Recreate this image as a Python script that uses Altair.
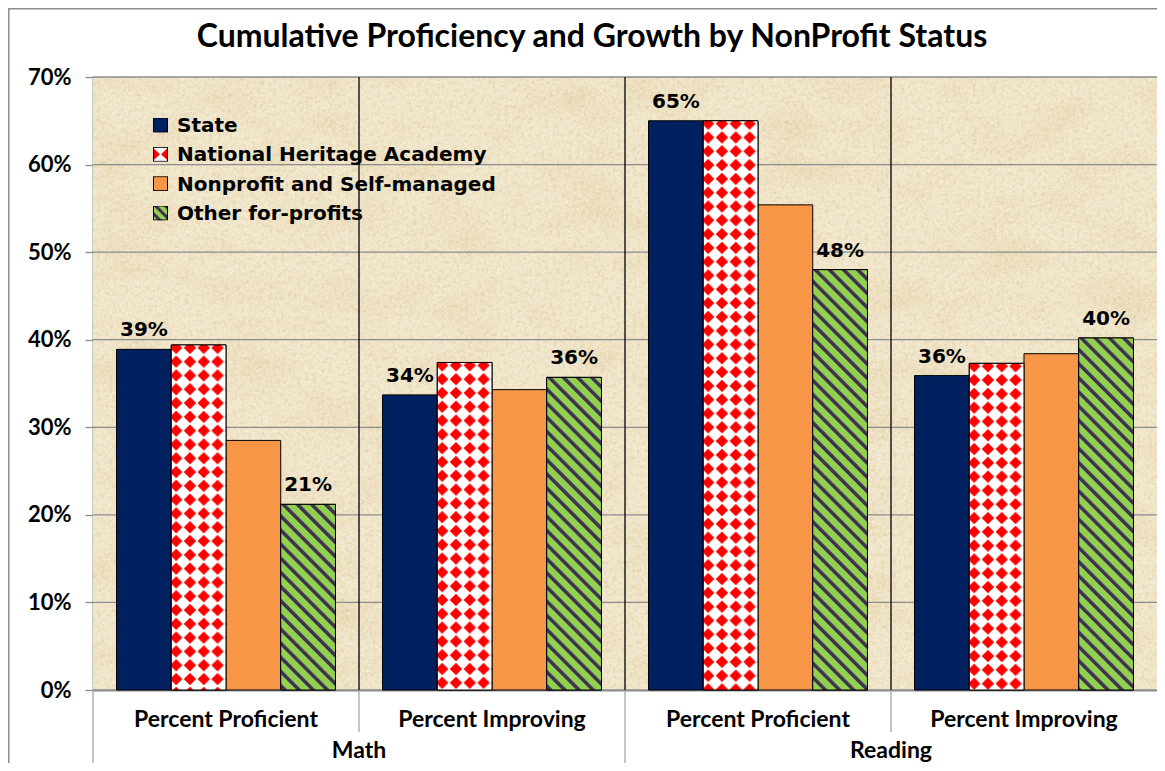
import urllib.parse
import altair as alt
import pandas as pd

# ---------------- data ----------------
title_text = "Cumulative Proficiency and Growth by NonProfit Status"
subjects = ["Math", "Math", "Reading", "Reading"]
measures = ["Percent Proficient", "Percent Improving", "Percent Proficient", "Percent Improving"]
series = ["State", "National Heritage Academy", "Nonprofit and Self-managed", "Other for-profits"]
state_vals = [38.9, 33.7, 65.0, 35.9]
nha_vals = [39.4, 37.4, 65.0, 37.3]
nonprofit_vals = [28.5, 34.3, 55.4, 38.4]
other_vals = [21.2, 35.7, 48.0, 40.2]
y_ticks = [0, 10, 20, 30, 40, 50, 60, 70]
labelled_series = ["State", "Other for-profits"]

# ---------------- styles ----------------
NAVY = "#002060"
ORANGE = "#F79646"
GREEN = "#92D050"
STRIPE = "#3F3151"
GRID = "#8C8C8C"
W, H = 1064, 613


def svg_url(svg):
    return "data:image/svg+xml;charset=utf-8," + urllib.parse.quote(svg)


diamond_svg = (
    "<svg xmlns='http://www.w3.org/2000/svg' width='100%' height='100%'>"
    "<defs><pattern id='d' x='-2' y='-4' width='13.8' height='13.8' patternUnits='userSpaceOnUse'>"
    "<rect width='13.8' height='13.8' fill='#FFFFFF'/>"
    "<path d='M6.9 0.7 L13.1 6.9 L6.9 13.1 L0.7 6.9 Z' fill='#FF0000'/>"
    "</pattern></defs><rect width='100%' height='100%' fill='url(#d)'/></svg>"
)
stripe_svg = (
    "<svg xmlns='http://www.w3.org/2000/svg' width='100%' height='100%'>"
    "<defs><pattern id='s' width='10' height='10' patternUnits='userSpaceOnUse' patternTransform='rotate(-45)'>"
    f"<rect width='10' height='10' fill='{GREEN}'/><rect width='3.5' height='10' fill='{STRIPE}'/>"
    "</pattern></defs><rect width='100%' height='100%' fill='url(#s)'/></svg>"
)
bg_svg = (
    "<svg xmlns='http://www.w3.org/2000/svg' width='100%' height='100%'>"
    "<defs>"
    "<filter id='f' x='0' y='0' width='100%' height='100%' color-interpolation-filters='sRGB'>"
    "<feTurbulence type='fractalNoise' baseFrequency='0.015 0.025' numOctaves='5' seed='7'/>"
    "<feColorMatrix type='matrix' values='0 0 0 0 0.86  0 0 0 0 0.76  0 0 0 0 0.55  2.0 0 0 0 -0.9'/>"
    "</filter>"
    "<filter id='g' x='0' y='0' width='100%' height='100%' color-interpolation-filters='sRGB'>"
    "<feTurbulence type='fractalNoise' baseFrequency='0.45' numOctaves='2' seed='3'/>"
    "<feColorMatrix type='matrix' values='0 0 0 0 1  0 0 0 0 0.98  0 0 0 0 0.93  2.2 0 0 0 -0.95'/>"
    "</filter>"
    "<filter id='h' x='0' y='0' width='100%' height='100%' color-interpolation-filters='sRGB'>"
    "<feTurbulence type='fractalNoise' baseFrequency='0.25' numOctaves='2' seed='11'/>"
    "<feColorMatrix type='matrix' values='0 0 0 0 0.82  0 0 0 0 0.72  0 0 0 0 0.52  2.2 0 0 0 -1.0'/>"
    "</filter></defs>"
    "<rect width='100%' height='100%' fill='#F0E5CA'/>"
    "<rect width='100%' height='100%' filter='url(#f)' opacity='0.35'/>"
    "<rect width='100%' height='100%' filter='url(#h)' opacity='0.4'/>"
    "<rect width='100%' height='100%' filter='url(#g)' opacity='0.5'/>"
    "</svg>"
)


def swatch(inner):
    return svg_url(
        "<svg xmlns='http://www.w3.org/2000/svg' width='15' height='15' viewBox='0 0 15 15'>"
        + inner
        + "<rect x='0.5' y='0.5' width='14' height='14' fill='none' stroke='#000' stroke-width='1'/></svg>"
    )


swatch_urls = [
    swatch(f"<rect width='15' height='15' fill='{NAVY}'/>"),
    swatch("<rect width='15' height='15' fill='#FFFFFF'/>"
           "<path d='M0 1 L7 7.5 L0 14 Z M15 1 L8 7.5 L15 14 Z' fill='#FF0000'/>"),
    swatch(f"<rect width='15' height='15' fill='{ORANGE}'/>"),
    swatch("<defs><pattern id='s' width='7' height='7' patternUnits='userSpaceOnUse' patternTransform='rotate(-45)'>"
           f"<rect width='7' height='7' fill='{GREEN}'/><rect width='3' height='7' fill='{STRIPE}'/>"
           "</pattern></defs><rect width='15' height='15' fill='url(#s)'/>"),
]

keys = [f"{s}|{m}" for s, m in zip(subjects, measures)]
rows = []
for sname, vals in zip(series, [state_vals, nha_vals, nonprofit_vals, other_vals]):
    for k, v in zip(keys, vals):
        rows.append({"key": k, "series": sname, "value": v / 100.0, "zero": 0.0})
df = pd.DataFrame(rows)

sep_df = pd.DataFrame({"key": keys, "subject": subjects,
                       "first": [i == 0 or subjects[i] != subjects[i - 1] for i in range(4)]})
grid_df = pd.DataFrame({"tick": [t / 100.0 for t in y_ticks]})
group_df = pd.DataFrame({"subject": ["Math", "Reading"], "key": [keys[1], keys[3]]})
legend_df = pd.DataFrame({"series": series, "idx": list(range(len(series))), "url": swatch_urls})
title_df = pd.DataFrame({"t": [title_text]})
one = pd.DataFrame({"k": [1]})

# ---------------- scales / axes ----------------
x_scale = alt.Scale(domain=keys, paddingInner=0, paddingOuter=0)
xo_scale = alt.Scale(domain=series, paddingInner=0, paddingOuter=0.43)
y_scale = alt.Scale(domain=[0, 0.7], nice=False, zero=True)
x_axis = alt.Axis(
    title=None, labelExpr="split(datum.label, '|')[1]", ticks=False, tickSize=0,
    domainColor=GRID, domainWidth=2, labelAngle=0, labelFont="Lato", labelFontSize=23,
    labelFontWeight="bold", labelColor="black", labelBaseline="alphabetic", labelPadding=36,
    labelLimit=400, grid=False,
)
y_axis = alt.Axis(
    title=None, values=[t / 100.0 for t in y_ticks], format=".0%", grid=False,
    domainColor=GRID, domainWidth=2, tickColor=GRID, tickSize=8, tickWidth=1.3,
    labelFont="Lato", labelFontSize=22, labelFontWeight="bold", labelColor="black", labelPadding=14,
)

X = alt.X("key:N", scale=x_scale, sort=keys, axis=x_axis)
XB = alt.X("key:N", scale=x_scale, sort=keys, axis=x_axis, bandPosition=0)
XO = alt.XOffset("series:N", scale=xo_scale, sort=series)
Y = alt.Y("value:Q", scale=y_scale, axis=y_axis)

background = alt.Chart(one).mark_image(aspect=False).encode(
    x=alt.value(0), x2=alt.value(W), y=alt.value(0), y2=alt.value(H), url=alt.value(svg_url(bg_svg))
)
gridlines = alt.Chart(grid_df).mark_rule(color=GRID, strokeWidth=1.3).encode(
    y=alt.Y("tick:Q", scale=y_scale, axis=y_axis), x=alt.value(0), x2=alt.value(W)
)
inner_seps = alt.Chart(sep_df).transform_filter("datum.key != '" + keys[0] + "'").mark_rule(
    color="black", strokeWidth=1.3
).encode(x=XB, y=alt.value(0), y2=alt.value(H))
below_sub = alt.Chart(sep_df).transform_filter("!datum.first").mark_rule(color="#A6A6A6", strokeWidth=1.3).encode(
    x=XB, y=alt.value(H), y2=alt.value(H + 42)
)
below_grp = alt.Chart(sep_df).transform_filter("datum.first").mark_rule(color="#A6A6A6", strokeWidth=1.3).encode(
    x=XB, y=alt.value(H), y2=alt.value(H + 80)
)

bars = alt.Chart(df).mark_bar(stroke="black", strokeWidth=1).encode(
    x=X, xOffset=XO, y=Y, y2="zero:Q",
    color=alt.Color("series:N", scale=alt.Scale(domain=series, range=[NAVY, "#FFFFFF", ORANGE, GREEN]), legend=None),
)
nha_img = alt.Chart(df).transform_filter(alt.datum.series == series[1]).mark_image(aspect=False).encode(
    x=X, xOffset=XO, y=Y, y2="zero:Q", url=alt.value(svg_url(diamond_svg))
)
oth_img = alt.Chart(df).transform_filter(alt.datum.series == series[3]).mark_image(aspect=False).encode(
    x=X, xOffset=XO, y=Y, y2="zero:Q", url=alt.value(svg_url(stripe_svg))
)
outlines = alt.Chart(df).transform_filter(
    alt.FieldOneOfPredicate(field="series", oneOf=[series[1], series[3]])
).mark_bar(fillOpacity=0, stroke="black", strokeWidth=1).encode(x=X, xOffset=XO, y=Y, y2="zero:Q")
labels = alt.Chart(df).transform_filter(
    alt.FieldOneOfPredicate(field="series", oneOf=labelled_series)
).mark_text(font="DejaVu Sans", fontSize=20, fontWeight="bold", dy=-13, baseline="alphabetic", color="black").encode(
    x=X, xOffset=XO, y=Y, text=alt.Text("value:Q", format=".0%")
)
group_labels = alt.Chart(group_df).mark_text(
    font="Lato", fontSize=23, fontWeight="bold", baseline="alphabetic", color="black"
).encode(x=XB, y=alt.value(H + 68), text="subject:N")
title_mark = alt.Chart(title_df).mark_text(
    font="Lato", fontSize=32, fontWeight="bold", baseline="alphabetic", color="black"
).encode(x=alt.value(499), y=alt.value(-30), text="t:N")
frame = alt.Chart(one).mark_rect(fillOpacity=0, stroke="#8C8C8C", strokeWidth=1.5).encode(
    x=alt.value(-84.2), x2=alt.value(W + 30), y=alt.value(-68.2), y2=alt.value(H + 120)
)

main = alt.layer(background, gridlines, inner_seps, bars, nha_img, oth_img, outlines, labels,
                 below_sub, below_grp, group_labels, title_mark, frame)

leg_y = alt.Y("idx:Q", scale=alt.Scale(domain=[0, 3], range=[48, 136]), axis=None)
leg_sw = alt.Chart(legend_df).mark_image(width=15, height=15).encode(x=alt.value(67.5), y=leg_y, url="url:N")
leg_tx = alt.Chart(legend_df).mark_text(
    align="left", baseline="middle", font="DejaVu Sans", fontSize=20, fontWeight="bold", color="black", dy=1
).encode(x=alt.value(84), y=leg_y, text="series:N")
legend = alt.layer(leg_sw, leg_tx)

chart = alt.layer(main, legend).resolve_scale(y="independent").properties(
    width=W, height=H,
    padding={"left": 85, "top": 69, "right": 0, "bottom": 73},
    autosize=alt.AutoSizeParams(type="none"),
    background="white",
).configure_view(stroke=None)

chart.save("out.html", embed_options={"renderer": "svg", "actions": False})
